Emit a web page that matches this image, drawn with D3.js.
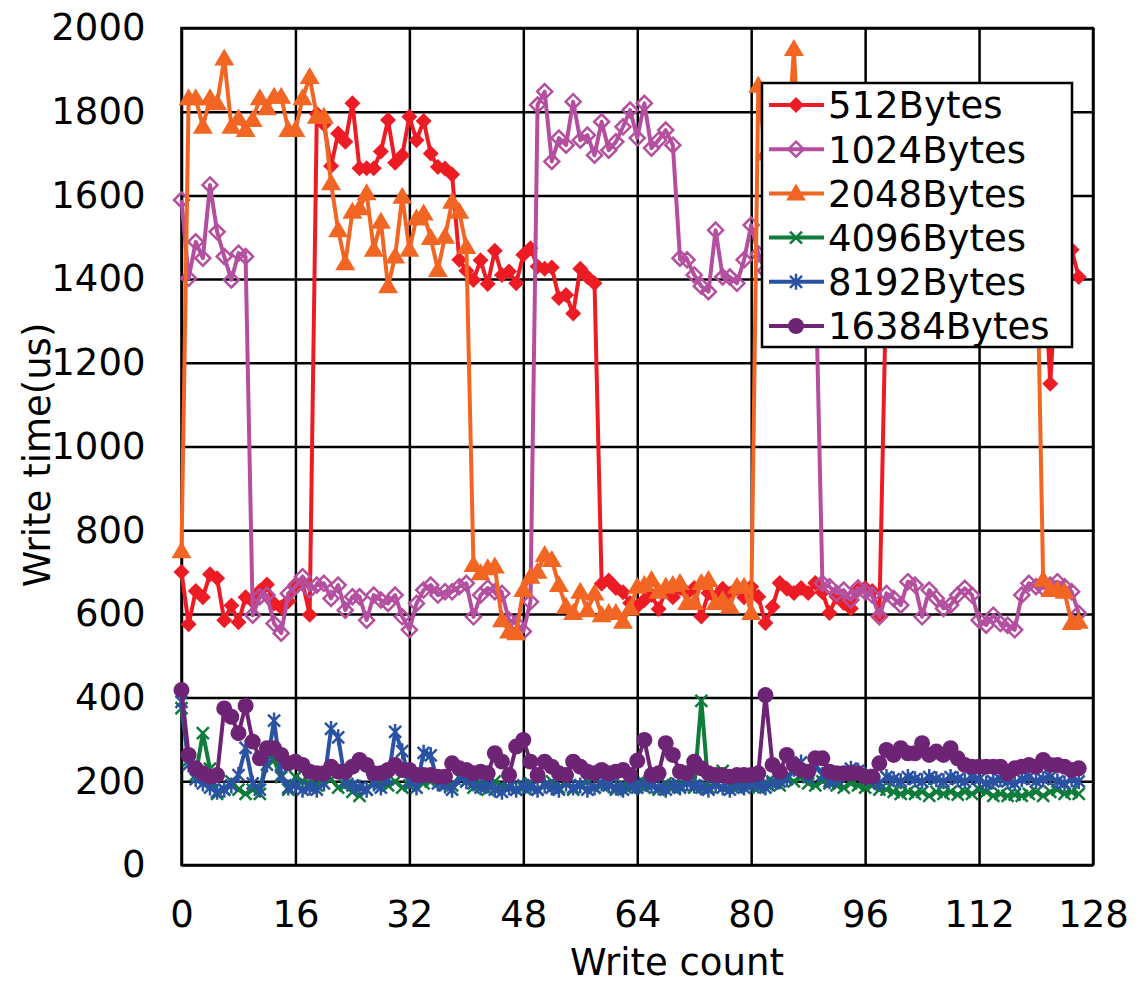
<!DOCTYPE html>
<html>
<head>
<meta charset="utf-8">
<script src="https://cdn.jsdelivr.net/npm/d3@7"></script>
<style>
body { margin: 0; background: #fff; }
text { font-family: "DejaVu Sans", sans-serif; fill: #000; }
</style>
</head>
<body>
<svg></svg>
<script>
// tick labels and series names
let xTicks = [0, 16, 32, 48, 64, 80, 96, 112, 128]
let yTicks = [0, 200, 400, 600, 800, 1000, 1200, 1400, 1600, 1800, 2000]
let names = ["512Bytes", "1024Bytes", "2048Bytes", "4096Bytes", "8192Bytes", "16384Bytes"]

// write time (us) per write count
let s512 = [
  700, 575, 655, 640, 695, 685, 585, 620, 580, 640, 630, 655, 670, 625, 615, 630,
  670, 675, 598, 1795, 1770, 1670, 1748, 1728, 1820, 1665, 1665, 1665, 1705, 1780, 1678, 1696,
  1788, 1732, 1778, 1700, 1668, 1664, 1650, 1446, 1420, 1398, 1445, 1388, 1468, 1410, 1418, 1390,
  1458, 1474, 1430, 1425, 1428, 1355, 1362, 1318, 1425, 1405, 1390, 672, 680, 662, 652, 626,
  618, 633, 645, 612, 655, 640, 662, 650, 662, 594, 650, 640, 660, 648, 662, 640,
  665, 641, 578, 617, 674, 660, 650, 662, 650, 674, 652, 602, 641, 626, 613, 657,
  662, 655, 598, 1420, 1460, 1440, 1480, 1430, 1450, 1410, 1470, 1440, 1420, 1460, 1430, 1450,
  1420, 1460, 1440, 1430, 1470, 1450, 1430, 1460, 1440, 1480, 1150, 1450, 1430, 1470, 1405
]
let s1024 = [
  1589, 1402, 1489, 1450, 1625, 1513, 1454, 1398, 1462, 1454, 597, 641, 645, 577, 554, 649,
  665, 689, 657, 669, 673, 637, 669, 609, 641, 641, 585, 645, 633, 625, 645, 593,
  562, 625, 657, 669, 645, 653, 653, 665, 673, 593, 645, 662, 653, 649, 585, 577,
  558, 629, 1816, 1848, 1681, 1737, 1720, 1824, 1732, 1744, 1696, 1776, 1708, 1728, 1764, 1804,
  1737, 1820, 1713, 1732, 1756, 1720, 1450, 1446, 1410, 1383, 1370, 1517, 1405, 1405, 1390, 1446,
  1529, 1460, 1420, 1460, 1500, 1440, 1470, 1430, 1490, 1450, 673, 665, 649, 657, 633, 662,
  653, 645, 593, 649, 637, 621, 677, 669, 593, 657, 637, 613, 621, 645, 661, 645,
  585, 573, 597, 577, 573, 562, 645, 673, 665, 662, 669, 677, 665, 653, 601
]
let s2048 = [
  750, 1832, 1832, 1764, 1832, 1820, 1927, 1764, 1784, 1756, 1780, 1832, 1808, 1836, 1836, 1756,
  1756, 1832, 1883, 1788, 1788, 1629, 1517, 1438, 1561, 1569, 1605, 1470, 1537, 1383, 1454, 1597,
  1470, 1545, 1557, 1498, 1422, 1501, 1585, 1561, 1477, 717, 697, 709, 713, 585, 558, 554,
  657, 689, 701, 741, 729, 669, 617, 602, 653, 609, 649, 597, 602, 602, 581, 613,
  665, 669, 681, 653, 665, 669, 674, 626, 626, 674, 681, 626, 633, 617, 665, 665,
  602, 1862, 1700, 1650, 1750, 1680, 1950, 1600, 1650, 1700, 1620, 1680, 1580, 1640, 1700, 1600,
  1650, 1580, 1620, 1700, 1640, 1580, 1660, 1600, 1620, 1680, 1600, 1650, 1580, 1620, 1660, 1600,
  1640, 1580, 1620, 1660, 1600, 1640, 1580, 1620, 1600, 681, 657, 657, 653, 578, 581
]
let s4096 = [
  375, 250, 215, 315, 230, 170, 180, 200, 180, 170, 180, 170, 270, 250, 210, 180,
  210, 200, 195, 190, 215, 205, 185, 190, 175, 165, 180, 200, 195, 190, 200, 185,
  190, 210, 195, 200, 205, 195, 190, 210, 200, 185, 195, 180, 200, 190, 185, 180,
  185, 195, 180, 190, 200, 185, 195, 180, 190, 200, 185, 190, 195, 180, 190, 185,
  195, 185, 190, 180, 195, 185, 190, 200, 185, 392, 185, 195, 225, 190, 185, 195,
  190, 185, 195, 200, 190, 205, 200, 210, 195, 190, 200, 195, 190, 185, 195, 190,
  185, 190, 180, 180, 175, 170, 175, 170, 175, 165, 175, 170, 175, 168, 175, 170,
  180, 175, 165, 170, 165, 168, 165, 170, 175, 165, 175, 180, 170, 175, 170
]
let s8192 = [
  390, 240, 205, 195, 185, 175, 180, 190, 215, 280, 195, 180, 240, 345, 215, 185,
  190, 180, 185, 180, 195, 325, 305, 200, 190, 185, 180, 195, 185, 205, 318, 272,
  200, 185, 268, 262, 195, 190, 180, 210, 200, 195, 185, 190, 180, 175, 185, 180,
  190, 185, 180, 190, 185, 180, 195, 185, 190, 180, 185, 195, 190, 185, 180, 190,
  185, 195, 190, 185, 180, 190, 185, 195, 190, 185, 180, 190, 185, 180, 190, 185,
  195, 190, 185, 195, 200, 205, 230, 245, 210, 240, 215, 200, 205, 215, 230, 225,
  215, 205, 195, 210, 205, 200, 210, 205, 200, 210, 205, 200, 210, 205, 200, 210,
  205, 195, 200, 205, 200, 195, 205, 210, 200, 205, 210, 200, 195, 205, 200
]
let s16384 = [
  418, 263, 231, 219, 211, 215, 374, 354, 315, 380, 295, 255, 279, 279, 263, 243,
  247, 239, 223, 219, 219, 235, 223, 223, 235, 251, 239, 219, 219, 227, 239, 227,
  227, 215, 215, 215, 211, 211, 243, 231, 227, 219, 223, 219, 267, 247, 215, 283,
  299, 247, 215, 247, 235, 219, 215, 247, 235, 223, 219, 227, 219, 223, 227, 215,
  249, 299, 215, 219, 291, 263, 223, 219, 247, 231, 219, 215, 215, 211, 215, 215,
  215, 219, 406, 239, 223, 263, 239, 227, 223, 255, 255, 223, 219, 219, 219, 219,
  211, 211, 243, 275, 263, 279, 267, 267, 291, 263, 271, 263, 279, 255, 239, 235,
  235, 235, 235, 235, 219, 231, 235, 239, 235, 251, 239, 239, 235, 227, 231
]

let seriesValues = [s512, s1024, s2048, s4096, s8192, s16384]
let colors = ["#ed1c24", "#b44fa0", "#f26522", "#0e7c3a", "#2a52a3", "#6e2474"]
let markers = ["diamond", "openDiamond", "triangle", "cross", "asterisk", "circle"]

let width = 1142
let height = 985
let plot = {left: 181.5, right: 1093, top: 28, bottom: 865}
let fontSize = "37px"

let svg = d3.select("svg").attr("width", width).attr("height", height)

let xScale = d3.scaleLinear().domain([0, 128]).range([plot.left, plot.right])
let yScale = d3.scaleLinear().domain([0, 2000]).range([plot.bottom, plot.top])

let markerPath = (kind) => {
  if (kind == "diamond") return "M0,-8L8,0L0,8L-8,0Z"
  if (kind == "openDiamond") return "M0,-7.5L7.5,0L0,7.5L-7.5,0Z"
  if (kind == "triangle") return "M0,-10L10,7L-10,7Z"
  if (kind == "cross") return "M-6,-6L6,6M-6,6L6,-6"
  if (kind == "asterisk") return "M-6,-6L6,6M-6,6L6,-6M0,-8L0,8"
  return d3.symbol().type(d3.symbolCircle).size(200)()
}

let styleMarker = (sel, kind, color) => {
  if (kind == "diamond" || kind == "triangle" || kind == "circle") {
    sel.attr("fill", color).attr("stroke", "none")
  } else {
    sel.attr("fill", "none").attr("stroke", color).attr("stroke-width", 2.5)
  }
}

// grid
let gridX = d3.axisBottom(xScale).tickValues(xTicks).tickSize(-(plot.bottom - plot.top)).tickFormat("")
let gridY = d3.axisLeft(yScale).tickValues(yTicks).tickSize(-(plot.right - plot.left)).tickFormat("")

svg.append("g")
   .attr("transform", "translate(0," + plot.bottom + ")")
   .call(gridX)
   .call(g => g.select(".domain").remove())
   .selectAll("line").attr("stroke", "#000").attr("stroke-width", 2.5)

svg.append("g")
   .attr("transform", "translate(" + plot.left + ",0)")
   .call(gridY)
   .call(g => g.select(".domain").remove())
   .selectAll("line").attr("stroke", "#000").attr("stroke-width", 2.5)

svg.append("rect")
   .attr("x", plot.left).attr("y", plot.top)
   .attr("width", plot.right - plot.left).attr("height", plot.bottom - plot.top)
   .attr("fill", "none").attr("stroke", "#000").attr("stroke-width", 2.5)

// axis labels
let xAxis = d3.axisBottom(xScale).tickValues(xTicks).tickSize(0).tickPadding(36)
let yAxis = d3.axisLeft(yScale).tickValues(yTicks).tickSize(0).tickPadding(36).tickFormat(d3.format("d"))

svg.append("g")
   .attr("id", "x-axis")
   .attr("transform", "translate(0," + plot.bottom + ")")
   .call(xAxis)
   .call(g => g.select(".domain").remove())
   .selectAll("text").style("font-size", fontSize).attr("fill", "#000")

svg.append("g")
   .attr("id", "y-axis")
   .attr("transform", "translate(" + plot.left + ",0)")
   .call(yAxis)
   .call(g => g.select(".domain").remove())
   .selectAll("text").style("font-size", fontSize).attr("fill", "#000")

// series
let line = d3.line().x((d, i) => xScale(i)).y((d) => yScale(d))

seriesValues.forEach((vals, k) => {
  svg.append("path")
     .datum(vals)
     .attr("d", line)
     .attr("fill", "none")
     .attr("stroke", colors[k])
     .attr("stroke-width", 4)
     .attr("stroke-linejoin", "round")

  svg.append("g")
     .selectAll("path")
     .data(vals)
     .enter()
     .append("path")
     .attr("d", markerPath(markers[k]))
     .attr("transform", (d, i) => "translate(" + xScale(i) + "," + yScale(d) + ")")
     .call(sel => styleMarker(sel, markers[k], colors[k]))
})

// legend
let legend = svg.append("g").attr("transform", "translate(762,83)")
legend.append("rect")
      .attr("width", 310).attr("height", 264)
      .attr("fill", "#fff").attr("stroke", "#000").attr("stroke-width", 2.5)

names.forEach((name, k) => {
  let y = 22 + k * 44.2
  legend.append("line")
        .attr("x1", 7).attr("x2", 62).attr("y1", y).attr("y2", y)
        .attr("stroke", colors[k]).attr("stroke-width", 4)
  legend.append("path")
        .attr("d", markerPath(markers[k]))
        .attr("transform", "translate(34," + y + ")")
        .call(sel => styleMarker(sel, markers[k], colors[k]))
  legend.append("text")
        .attr("x", 66).attr("y", y)
        .attr("dy", "0.36em")
        .style("font-size", fontSize)
        .text(name)
})

// titles
svg.append("text")
   .attr("x", 677).attr("y", 975)
   .attr("text-anchor", "middle")
   .style("font-size", fontSize)
   .text("Write count")

svg.append("text")
   .attr("transform", "translate(50,455) rotate(-90)")
   .attr("text-anchor", "middle")
   .style("font-size", fontSize)
   .text("Write time(us)")
</script>
</body>
</html>
